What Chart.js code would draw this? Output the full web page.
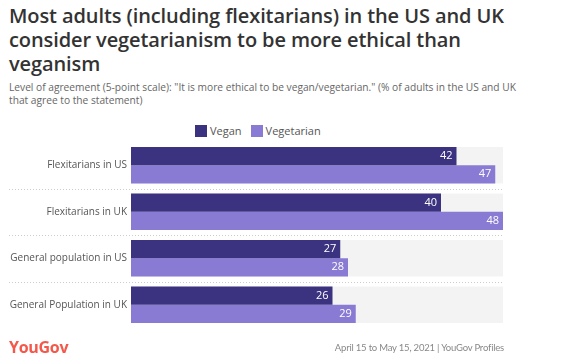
<!DOCTYPE html>
<html>
<head>
<meta charset="utf-8">
<script src="https://cdn.jsdelivr.net/npm/chart.js@4"></script>
<style>
  body { margin: 0; width: 569px; height: 362px; background: #fff; position: relative; overflow: hidden; font-family: "Open Sans", sans-serif; }
  #title { position: absolute; left: 9px; top: 4px; width: 540px; font-size: 20px; font-weight: 600; line-height: 24px; color: #333; letter-spacing: -0.1px; }
  #subtitle { position: absolute; left: 9px; top: 81px; width: 560px; font-size: 10.2px; line-height: 13px; color: #666; }
  #legend { position: absolute; left: 195px; top: 123px; font-size: 11px; color: #555; display: flex; align-items: center; }
  #legend span.box { display: inline-block; width: 12px; height: 12px; margin-right: 3px; }
  #legend span.lab { margin-right: 9px; }
  #chartWrap { position: absolute; left: 0; top: 132px; width: 569px; height: 206px; }
  #logo { position: absolute; left: 9px; top: 336px; font-size: 16px; font-weight: 700; color: #f4584b; letter-spacing: -0.3px; }
  #source { position: absolute; right: 65px; top: 342px; font-family: Lato, sans-serif; font-size: 9.5px; letter-spacing: -0.2px; color: #888; }
</style>
</head>
<body>
<div id="title">Most adults (including flexitarians) in the US and UK consider vegetarianism to be more ethical than veganism</div>
<div id="subtitle">Level of agreement (5-point scale): "It is more ethical to be vegan/vegetarian." (% of adults in the US and UK<br>that agree to the statement)</div>
<div id="legend"></div>
<div id="chartWrap"><canvas id="chart"></canvas></div>
<div id="logo">YouGov</div>
<div id="source">April 15 to May 15, 2021 | YouGov Profiles</div>
<script>
// data
const categories = ["Flexitarians in US", "Flexitarians in UK", "General population in US", "General Population in UK"];
const seriesNames = ["Vegan", "Vegetarian"];
const vegan = [42, 40, 27, 26];
const vegetarian = [47, 48, 28, 29];
const axisMax = 48;

const colors = ["#3b3380", "#897bd3"];

// html legend
const legend = document.getElementById("legend");
seriesNames.forEach((name, i) => {
  const box = document.createElement("span");
  box.className = "box";
  box.style.background = colors[i];
  const lab = document.createElement("span");
  lab.className = "lab";
  lab.textContent = name;
  legend.appendChild(box);
  legend.appendChild(lab);
});

// grey track behind each pair + dotted separators
const trackPlugin = {
  id: "track",
  beforeDatasetsDraw(chart) {
    const { ctx, chartArea } = chart;
    const m0 = chart.getDatasetMeta(0).data;
    const m1 = chart.getDatasetMeta(1).data;
    ctx.save();
    ctx.fillStyle = "#f3f3f3";
    m0.forEach((b, i) => {
      const top = b.y - b.height / 2;
      const bottom = m1[i].y + m1[i].height / 2;
      ctx.fillRect(chartArea.left, top, chartArea.right - chartArea.left, bottom - top);
    });
    // separators
    const y = chart.scales.y;
    ctx.strokeStyle = "#cccccc";
    ctx.lineWidth = 1;
    ctx.setLineDash([1, 2]);
    for (let i = 0; i < categories.length - 1; i++) {
      const py = Math.round((y.getPixelForValue(i) + y.getPixelForValue(i + 1)) / 2) + 0.5;
      ctx.beginPath();
      ctx.moveTo(9, py);
      ctx.lineTo(chartArea.right, py);
      ctx.stroke();
    }
    ctx.restore();
  }
};

// value labels inside bar ends
const valuePlugin = {
  id: "values",
  afterDatasetsDraw(chart) {
    const { ctx } = chart;
    ctx.save();
    ctx.fillStyle = "#ffffff";
    ctx.font = "11px 'Open Sans', sans-serif";
    ctx.textAlign = "right";
    ctx.textBaseline = "middle";
    chart.data.datasets.forEach((ds, di) => {
      chart.getDatasetMeta(di).data.forEach((bar, i) => {
        ctx.fillText(ds.data[i], bar.x - 4, bar.y);
      });
    });
    ctx.restore();
  }
};

new Chart(document.getElementById("chart"), {
  type: "bar",
  data: {
    labels: categories,
    datasets: [
      { label: seriesNames[0], data: vegan, backgroundColor: colors[0] },
      { label: seriesNames[1], data: vegetarian, backgroundColor: colors[1] }
    ]
  },
  options: {
    indexAxis: "y",
    responsive: true,
    maintainAspectRatio: false,
    animation: false,
    categoryPercentage: 36 / 46,
    barPercentage: 1,
    layout: { padding: { top: 3, bottom: 3, right: 66, left: 0 } },
    plugins: { legend: { display: false }, tooltip: { enabled: false } },
    scales: {
      x: { min: 0, max: axisMax, display: false },
      y: {
        grid: { display: false, drawTicks: false },
        border: { display: false },
        ticks: { color: "#555", font: { family: "Open Sans", size: 10 }, padding: 4 },
        afterFit(scale) { scale.width = 131; }
      }
    }
  },
  plugins: [trackPlugin, valuePlugin]
});
</script>
</body>
</html>
